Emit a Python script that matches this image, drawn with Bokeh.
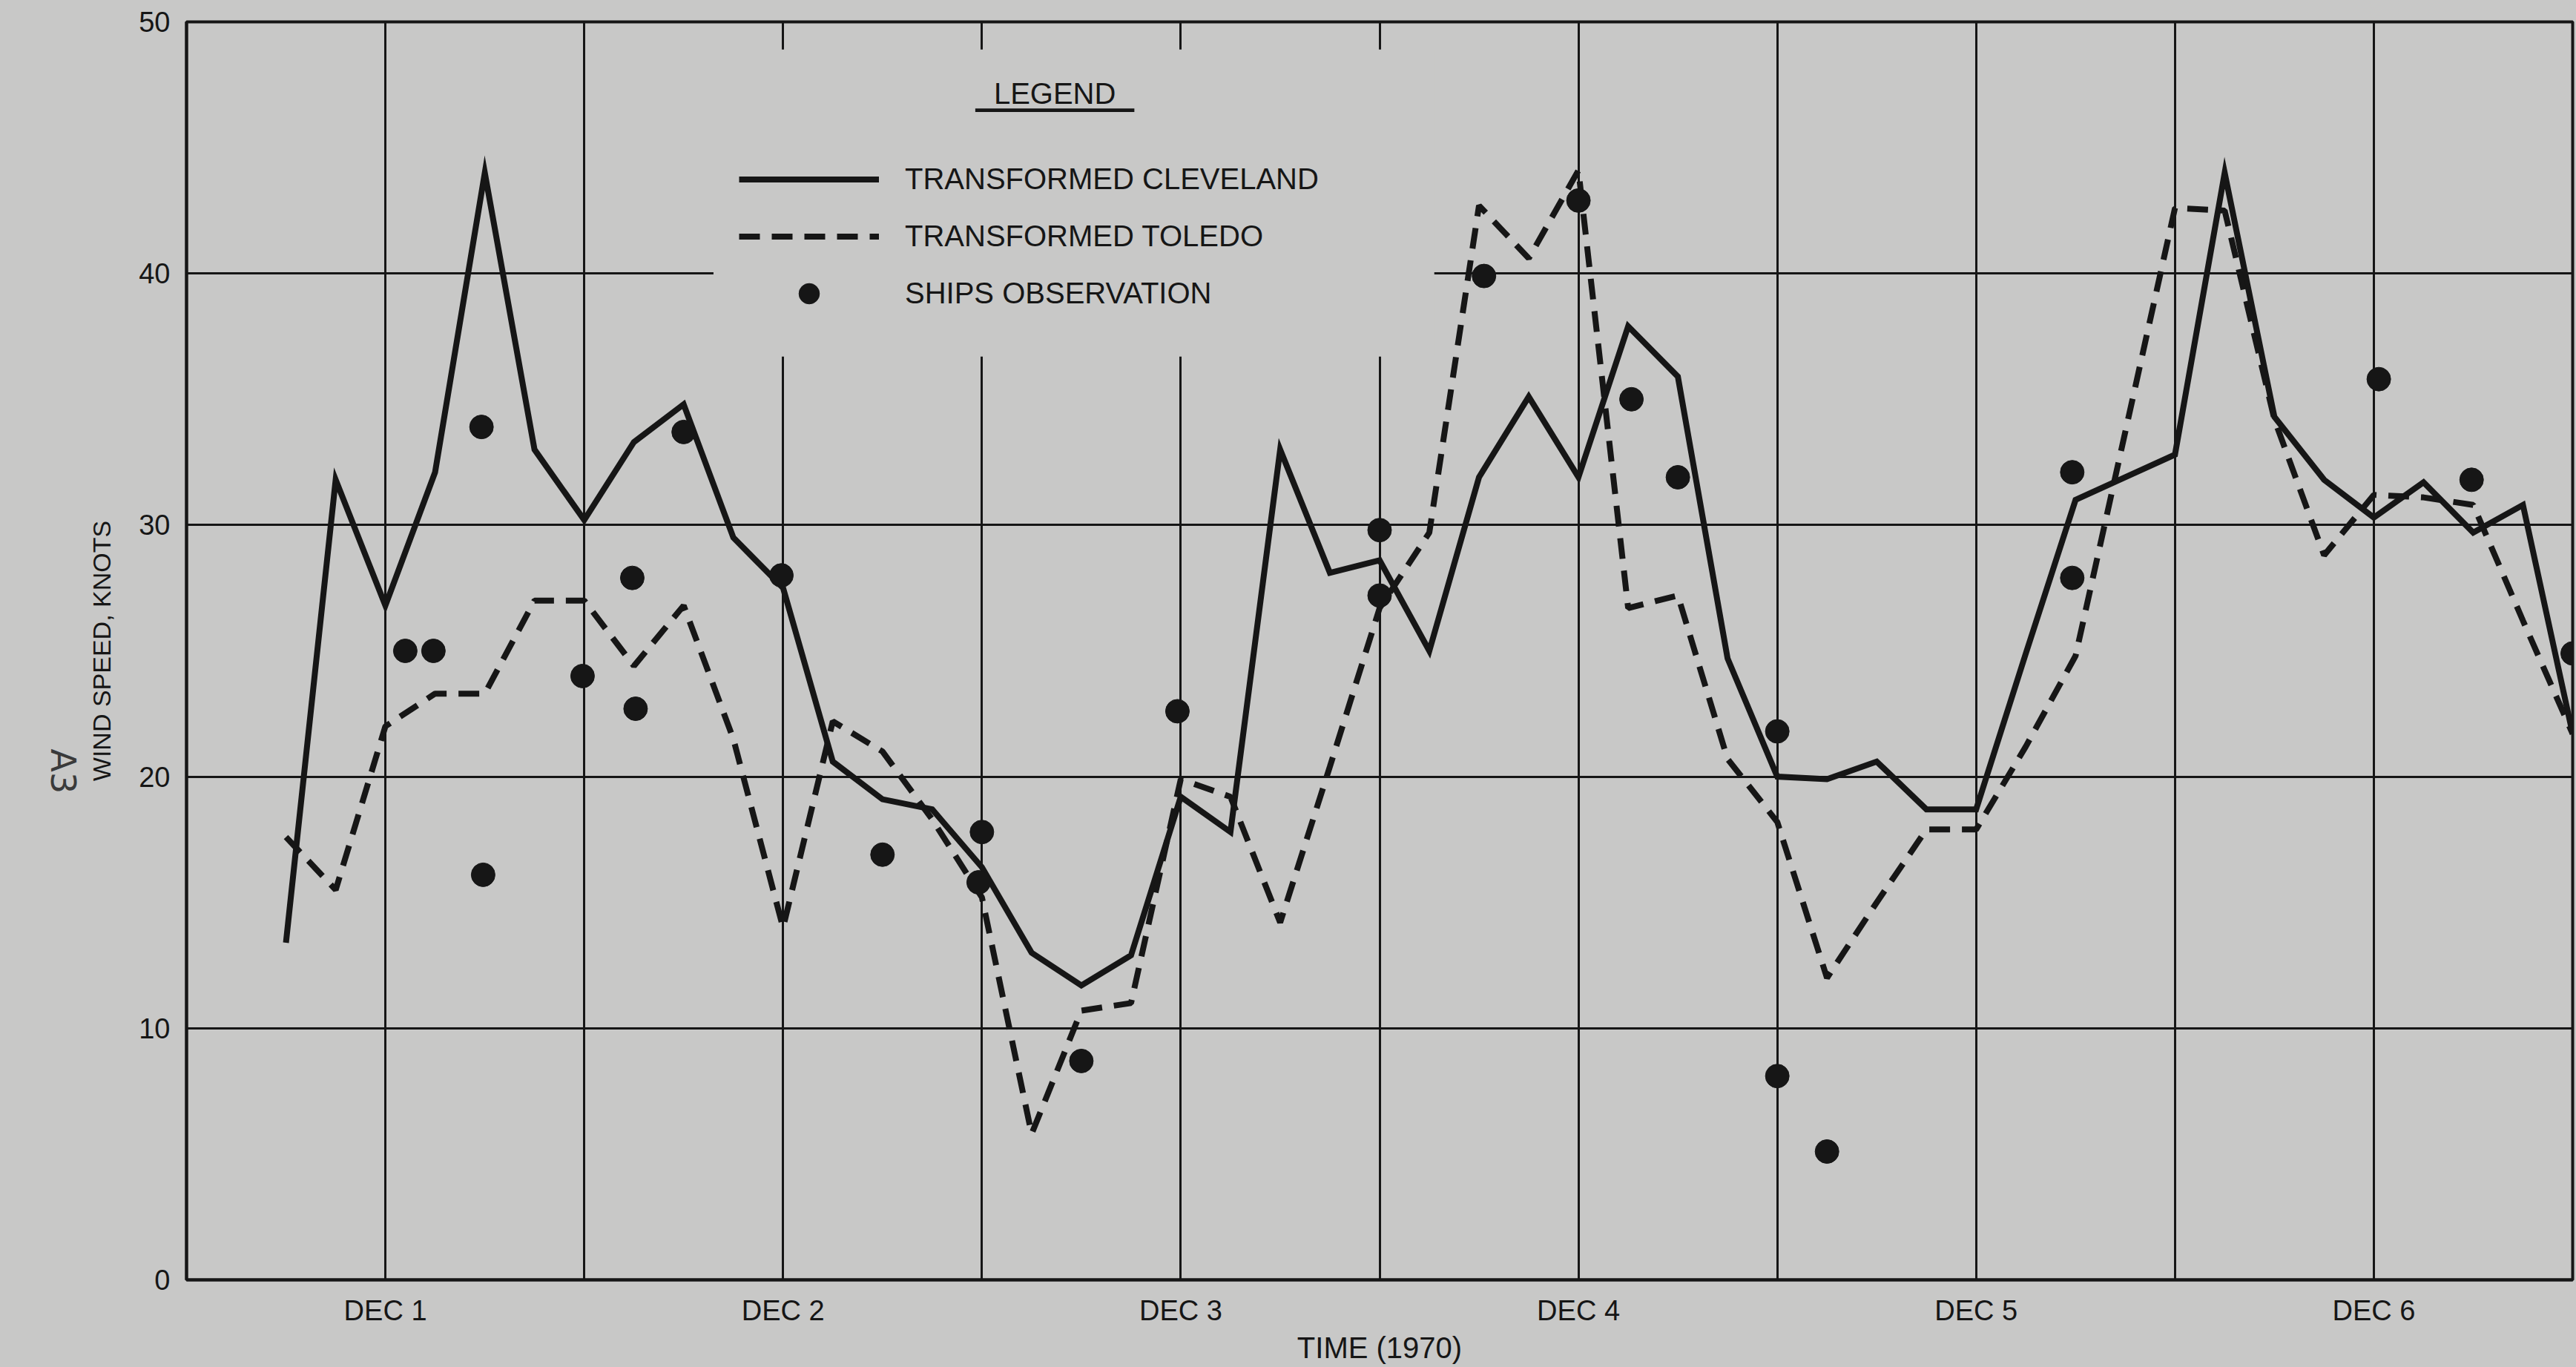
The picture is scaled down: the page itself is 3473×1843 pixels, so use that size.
from bokeh.plotting import figure
from bokeh.models import FixedTicker, Legend, LegendItem, Label, BoxAnnotation, Range1d
from bokeh.layouts import row
from bokeh.embed import file_html
from bokeh.resources import INLINE

# ---- data (hours after 30 Nov 1970 12:00) ----
cle_hours = [6, 9, 12, 15, 18, 21, 24, 27, 30, 33, 36, 39, 42, 45, 48, 51, 54, 57, 60, 63,
             66, 69, 72, 75, 78, 81, 84, 87, 90, 93, 96, 99, 102, 105, 108, 111, 114, 117,
             120, 123, 126, 129, 132, 135, 138, 141, 144]
cle_speed = [13.4, 31.8, 26.8, 32.1, 44.0, 33.0, 30.2, 33.3, 34.8, 29.5, 27.5, 20.6, 19.1,
             18.7, 16.4, 13.0, 11.7, 12.9, 19.2, 17.8, 33.0, 28.1, 28.6, 25.0, 31.9, 35.1,
             31.9, 37.9, 35.9, 24.7, 20.0, 19.9, 20.6, 18.7, 18.7, 24.9, 31.0, 31.9, 32.8,
             44.0, 34.3, 31.8, 30.3, 31.7, 29.7, 30.8, 21.7]

tol_hours = [6, 9, 12, 15, 18, 21, 24, 27, 30, 33, 36, 39, 42, 45, 48, 51, 54, 57, 60, 63,
             66, 69, 72, 75, 78, 81, 84, 87, 90, 93, 96, 99, 102, 105, 108, 111, 114, 117,
             120, 123, 126, 129, 132, 135, 138, 141, 144]
tol_speed = [17.6, 15.5, 22.0, 23.3, 23.3, 27.0, 27.0, 24.4, 26.8, 21.5, 14.0, 22.2, 21.0,
             18.3, 15.2, 5.8, 10.7, 11.0, 19.9, 19.2, 14.2, 20.4, 26.7, 29.7, 42.7, 40.6,
             44.1, 26.7, 27.2, 20.7, 18.2, 12.0, 15.0, 17.9, 17.9, 21.2, 24.8, 33.7, 42.6,
             42.5, 34.2, 28.8, 31.2, 31.1, 30.8, 26.2, 21.7]

ship_hours = [13.2, 14.9, 17.8, 17.9, 23.9, 26.9, 27.1, 30.0, 35.9, 42.0, 48.0, 47.8, 54.0,
              59.8, 72.0, 72.0, 78.3, 84.0, 87.2, 90.0, 96.0, 96.0, 99.0, 113.8, 113.8,
              132.3, 137.9, 144.0]
ship_speed = [25.0, 25.0, 33.9, 16.1, 24.0, 27.9, 22.7, 33.7, 28.0, 16.9, 17.8, 15.8, 8.7,
              22.6, 29.8, 27.2, 39.9, 42.9, 35.0, 31.9, 21.8, 8.1, 5.1, 32.1, 27.9,
              35.8, 31.8, 24.9]

day_ticks = [12, 36, 60, 84, 108, 132]
day_labels = ["DEC 1", "DEC 2", "DEC 3", "DEC 4", "DEC 5", "DEC 6"]
grid_hours = [12, 24, 36, 48, 60, 72, 84, 96, 108, 120, 132]
speed_ticks = [0, 10, 20, 30, 40, 50]
grid_speeds = [10, 20, 30, 40]

BG = "#c8c8c7"
INK = "#161616"
FONT = "Liberation Sans"

MARGIN_W = 115
p = figure(width=3473 - MARGIN_W, height=1843, output_backend="svg", toolbar_location=None,
           x_range=Range1d(0, 144), y_range=Range1d(0, 50),
           min_border_left=250 - MARGIN_W, min_border_right=5, min_border_top=29,
           min_border_bottom=118,
           background_fill_color=BG, border_fill_color=BG,
           outline_line_color=INK, outline_line_width=4)

# grids
p.xgrid.ticker = FixedTicker(ticks=grid_hours)
p.ygrid.ticker = FixedTicker(ticks=grid_speeds)
for g in (p.xgrid, p.ygrid):
    g.grid_line_color = INK
    g.grid_line_width = 3
    g.grid_line_alpha = 1.0

# axes
p.xaxis.ticker = FixedTicker(ticks=day_ticks)
p.xaxis.major_label_overrides = {t: l for t, l in zip(day_ticks, day_labels)}
p.yaxis.ticker = FixedTicker(ticks=speed_ticks)
for ax in (p.xaxis, p.yaxis):
    ax.axis_line_color = INK
    ax.axis_line_width = 4
    ax.major_tick_line_color = None
    ax.minor_tick_line_color = None
    ax.major_label_text_font = FONT
    ax.major_label_text_font_size = "38px"
    ax.major_label_text_color = INK
    ax.axis_label_text_font = FONT
    ax.axis_label_text_font_style = "normal"
    ax.axis_label_text_color = INK
p.xaxis.major_label_standoff = 14
p.yaxis.major_label_standoff = 16
p.xaxis.axis_label = "TIME (1970)"
p.xaxis.axis_label_text_font_size = "40px"
p.xaxis.axis_label_standoff = 4
p.yaxis.axis_label = "WIND SPEED, KNOTS"
p.yaxis.axis_label_text_font_size = "34px"
p.yaxis.axis_label_standoff = 28

# blank area behind the legend (grid lines are interrupted there)
cover = BoxAnnotation(left=31.8, right=75.3, bottom=36.7, top=48.9,
                      fill_color=BG, fill_alpha=1.0, line_color=None, level="underlay")
p.add_layout(cover)

# data
r_cle = p.line(cle_hours, cle_speed, line_width=8, line_color=INK, line_join="miter")
r_tol = p.line(tol_hours, tol_speed, line_width=8, line_color=INK, line_dash="28 16")
r_ship = p.scatter(ship_hours, ship_speed, size=32, fill_color=INK, line_color=INK)

legend = Legend(items=[LegendItem(label="TRANSFORMED CLEVELAND", renderers=[r_cle]),
                       LegendItem(label="TRANSFORMED TOLEDO", renderers=[r_tol]),
                       LegendItem(label="SHIPS OBSERVATION", renderers=[r_ship])],
                location=(745, 1295), glyph_width=189, glyph_height=69, label_height=69,
                spacing=8, padding=0, margin=0, label_standoff=35,
                background_fill_alpha=0, border_line_alpha=0,
                label_text_font=FONT, label_text_font_size="40px", label_text_color=INK)
p.add_layout(legend)

title = Label(x=52.4, y=47.15, text="LEGEND", text_align="center", text_baseline="middle",
              text_font=FONT, text_font_size="40px", text_color=INK)
p.add_layout(title)
underline = BoxAnnotation(left=47.6, right=57.2, bottom=46.42, top=46.56,
                          fill_color=INK, fill_alpha=1.0, line_color=None)
p.add_layout(underline)

# narrow strip at the left that carries the page number
strip = figure(width=MARGIN_W, height=1843, output_backend="svg", toolbar_location=None,
               x_range=Range1d(0, MARGIN_W), y_range=Range1d(0, 1843),
               x_axis_location=None, y_axis_location=None,
               min_border=0, background_fill_color=BG, border_fill_color=BG,
               outline_line_color=None)
strip.grid.visible = False
page = Label(x=84, y=745, text="A3", angle=-1.5708,
             text_align="center", text_baseline="middle", text_font="DejaVu Sans",
             text_font_size="46px", text_color="#3a3a3a")
strip.add_layout(page)

layout = row(strip, p, spacing=0)
html = file_html(layout, INLINE)
html = html.replace("<head>", "<head><style>html,body{margin:0;background:#c8c8c7;}</style>", 1)
open("out.html", "w").write(html)
